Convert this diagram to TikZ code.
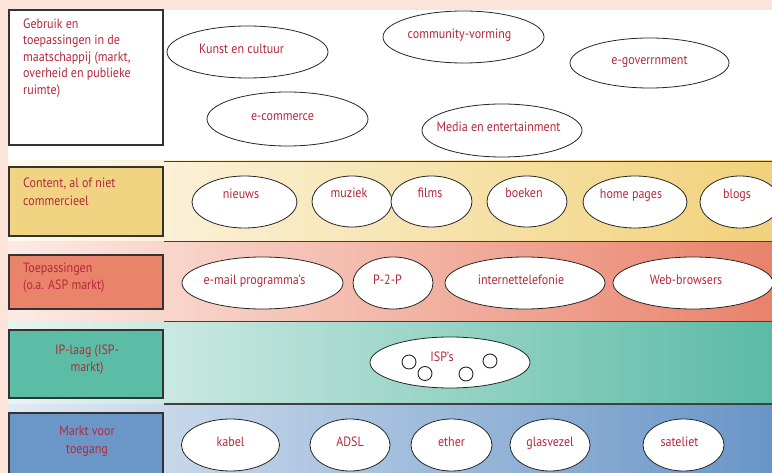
\documentclass[tikz,border=0pt]{standalone}
\usepackage{fontspec}
\setmainfont{PT Sans}[FakeStretch=0.89]
\usetikzlibrary{shapes.geometric}

\definecolor{pinkbg}{HTML}{FCE4DB}
\definecolor{capred}{HTML}{B5283B}
\definecolor{framegray}{HTML}{333333}
% layer colours: light (left) and saturated (right)
\definecolor{contL}{HTML}{FDF9EE}
\definecolor{contR}{HTML}{F1D17A}
\definecolor{contBox}{HTML}{F0D482}
\definecolor{appL}{HTML}{FCEBE5}
\definecolor{appR}{HTML}{E9826A}
\definecolor{appBox}{HTML}{E9846A}
\definecolor{ipL}{HTML}{E7F4F1}
\definecolor{ipR}{HTML}{5BBBA5}
\definecolor{ipBox}{HTML}{5BBDA6}
\definecolor{accL}{HTML}{E1E9F4}
\definecolor{accR}{HTML}{6895C7}
\definecolor{accBox}{HTML}{6A96C8}

\tikzset{
  bubble/.style={ellipse, draw=black!85, line width=0.8pt, fill=white, inner sep=0pt},
  caption/.style={text=capred, font=\fontsize{13.5}{15}\selectfont,
    text height=9.5pt, text depth=2.5pt, inner sep=0pt, yshift=2pt},
  layerbox/.style={draw=framegray, line width=1.2pt},
  boxtext/.style={text=capred, inner sep=0pt, font=\fontsize{13.5}{17.5}\selectfont},
  divider/.style={draw=black!75, line width=1pt},
  isp/.style={circle, draw=black!85, line width=0.9pt, fill=white, minimum size=14pt, inner sep=0pt}
}

\begin{document}
\begin{tikzpicture}[x=1pt,y=-1pt]
\useasboundingbox (0,0) rectangle (772,473);
\begin{scope}
\clip (0,0) rectangle (772,473);

% page background and margins
\fill[white] (0,0) rectangle (772,473);
\fill[pinkbg] (0,0) rectangle (772,10);
\fill[pinkbg] (0,0) rectangle (8,473);

% layer bands
\shade[left color=contL, right color=contR] (8,161) rectangle (772,242);
\shade[left color=appL, right color=appR] (8,242) rectangle (772,322);
\shade[left color=ipL, right color=ipR] (8,322) rectangle (772,404);
\shade[left color=accL, right color=accR] (8,404) rectangle (772,473);

% band separators
\coordinate (s1a) at (164,162); \coordinate (s1b) at (772,162);
\coordinate (s2a) at (164,242); \coordinate (s2b) at (772,242);
\coordinate (s3a) at (164,322); \coordinate (s3b) at (772,322);
\coordinate (s4a) at (164,404); \coordinate (s4b) at (772,404);
\draw[divider] (s1a) -- (s1b);
\draw[divider] (s2a) -- (s2b);
\draw[divider] (s3a) -- (s3b);
\draw[divider] (s4a) -- (s4b);

% layer label boxes
\draw[layerbox, fill=white] (9,10) rectangle (163,145);
\draw[layerbox, fill=contBox] (9,167) rectangle (163,236);
\draw[layerbox, fill=appBox] (9,255) rectangle (163,309);
\draw[layerbox, fill=ipBox] (9,330) rectangle (163,398);
\draw[layerbox, fill=accBox] (9,413) rectangle (163,485);

\node[boxtext, anchor=north west, align=left, font=\fontsize{13.5}{16.5}\selectfont] (tUse) at (23,18.5)
  {Gebruik en\\toepassingen in de\\maatschappij (markt,\\overheid en publieke\\ruimte)};
\node[boxtext, anchor=north west, align=left] (tCont) at (23,178)
  {Content, al of niet\\commercieel};
\node[boxtext, anchor=north west, align=left] (tApp) at (23,262.5)
  {Toepassingen\\(o.a. ASP markt)};
\node[boxtext, anchor=north, align=center] (tIP) at (87,344.5)
  {IP-laag (ISP-\\markt)};
\node[boxtext, anchor=north, align=center] (tAcc) at (87,426)
  {Markt voor\\toegang};

% society layer
\node[bubble, minimum width=161pt, minimum height=52pt, label={[caption, xshift=-6pt]center:Kunst en cultuur}] (kunst) at (247.5,52) {};
\node[bubble, minimum width=161pt, minimum height=52pt, label={[caption, xshift=-4pt]center:community-vorming}] (comm) at (463.5,37) {};
\node[bubble, minimum width=159pt, minimum height=50pt, label={[caption]center:e-goverrnment}] (egov) at (649.5,63) {};
\node[bubble, minimum width=161pt, minimum height=54pt, label={[caption, xshift=-5pt]center:e-commerce}] (ecom) at (287.5,119) {};
\node[bubble, minimum width=160pt, minimum height=53pt, label={[caption, xshift=-3.5pt]center:Media en entertainment}] (media) at (502,130.5) {};

% content layer
\tikzset{contcap/.style={caption, yshift=5pt}}
\node[bubble, minimum width=105pt, minimum height=52pt, label={[contcap, xshift=-3.5pt]center:nieuws}] (nieuws) at (244.5,202) {};
\node[bubble, minimum width=80pt, minimum height=51pt, label={[contcap, xshift=-3pt]center:muziek}] (muziek) at (352,201.5) {};
\node[bubble, minimum width=81pt, minimum height=51pt, label={[contcap, xshift=-1.5pt]center:films}] (films) at (431.5,201.5) {};
\node[bubble, minimum width=80pt, minimum height=51pt, label={[contcap, xshift=-3pt]center:boeken}] (boeken) at (527,201.5) {};
\node[bubble, minimum width=104pt, minimum height=52pt, label={[contcap, xshift=-4pt]center:home pages}] (home) at (635,202) {};
\node[bubble, minimum width=80pt, minimum height=52pt, label={[contcap, xshift=-3pt]center:blogs}] (blogs) at (740,202) {};

% application layer
\node[bubble, minimum width=161pt, minimum height=52pt, label={[caption, xshift=-8pt]center:e-mail programma’s}] (mail) at (262.5,283) {};
\node[bubble, minimum width=80pt, minimum height=52pt, label={[caption, xshift=-5.5pt]center:P-2-P}] (p2p) at (393,283) {};
\node[bubble, minimum width=160pt, minimum height=52pt, label={[caption, xshift=-4pt]center:internettelefonie}] (voip) at (525,283) {};
\node[bubble, minimum width=160pt, minimum height=52pt, label={[caption, xshift=-7pt]center:Web-browsers}] (web) at (693,283) {};

% IP layer
\node[bubble, minimum width=160pt, minimum height=51pt] (ispring) at (450,362.5) {};
\node[caption, yshift=-2pt] (isptxt) at (442,358.5) {ISP’s};
\node[isp] (isp1) at (409,362) {};
\node[isp] (isp2) at (425,373.5) {};
\node[isp] (isp3) at (466,374) {};
\node[isp] (isp4) at (490,361) {};

% access layer
\node[bubble, minimum width=98pt, minimum height=52pt, label={[caption]center:kabel}] (kabel) at (230.5,445) {};
\node[bubble, minimum width=80pt, minimum height=52pt, label={[caption]center:ADSL}] (adsl) at (350,445) {};
\node[bubble, minimum width=81pt, minimum height=52pt, label={[caption]center:ether}] (ether) at (451.5,445) {};
\node[bubble, minimum width=80pt, minimum height=52pt, label={[caption]center:glasvezel}] (glas) at (550,445) {};
\node[bubble, minimum width=81pt, minimum height=52pt, label={[caption, xshift=-4pt]center:sateliet}] (sat) at (683.5,445) {};
\end{scope}
\end{tikzpicture}
\end{document}
